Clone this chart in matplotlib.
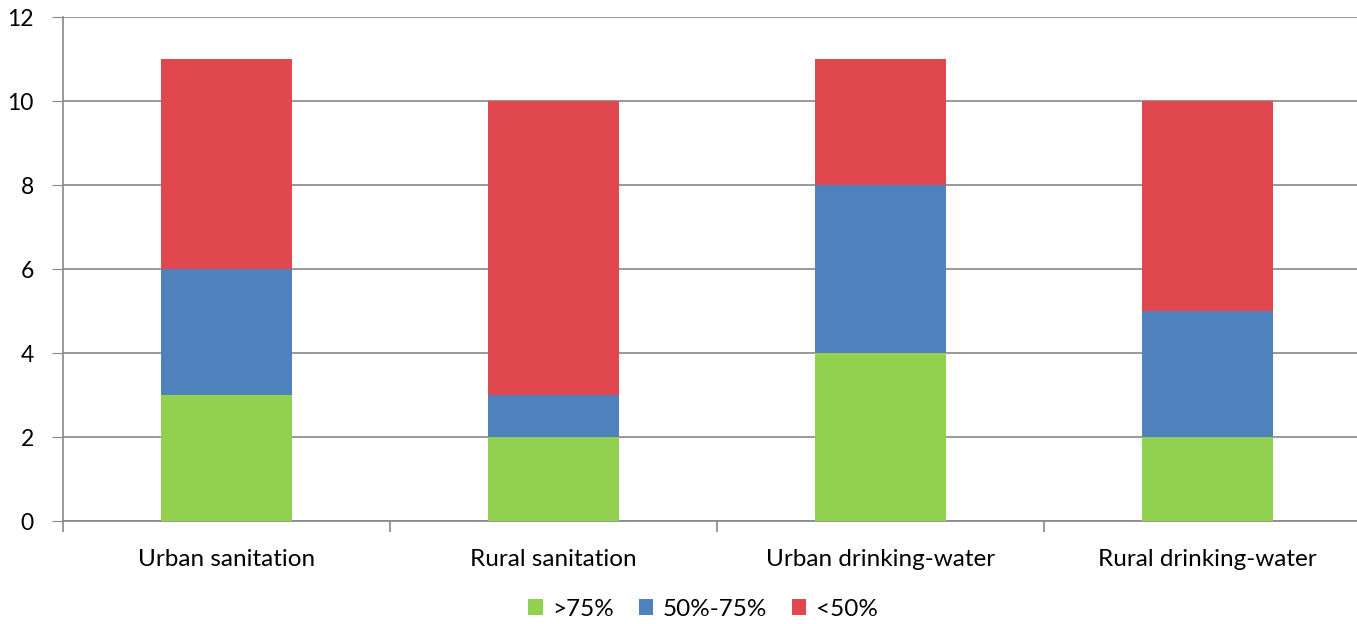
import numpy as np
import matplotlib.pyplot as plt

plt.rcParams['font.family'] = ['Lato', 'DejaVu Sans']

categories = ['Urban sanitation', 'Rural sanitation', 'Urban drinking-water', 'Rural drinking-water']
above_75 = [3, 2, 4, 2]
between_50_75 = [3, 1, 4, 3]
below_50 = [5, 7, 3, 5]
series_names = ['>75%', '50%-75%', '<50%']
colors = ['#92D050', '#4F81BD', '#E0474F']

fig = plt.figure(figsize=(13.57, 6.24), dpi=100)
ax = fig.add_axes([63 / 1357, 1 - 521 / 624, (1371 - 63) / 1357, (521 - 17) / 624])

x = np.arange(len(categories))
bottom = np.zeros(len(categories))
for vals, name, c in zip([above_75, between_50_75, below_50], series_names, colors):
    ax.bar(x, vals, width=0.4, bottom=bottom, color=c, label=name, zorder=3)
    bottom += np.array(vals)

ax.set_xlim(-0.5, len(categories) - 0.5)
ax.set_ylim(0, 12)
ax.set_yticks(range(0, 13, 2))
ax.tick_params(axis='y', labelsize=16.5, length=8, color='#888888', pad=13)
ax.yaxis.grid(True, color='#888888', linewidth=1.2, zorder=0)

ax.set_xticks(x)
ax.set_xticklabels(categories, fontsize=17.5)
ax.tick_params(axis='x', which='major', length=0, pad=20)
ax.set_xticks(np.arange(-0.5, len(categories)), minor=True)
ax.tick_params(axis='x', which='minor', length=8, color='#888888', width=1.2)

for s in ['top', 'right']:
    ax.spines[s].set_visible(False)
for s in ['left', 'bottom']:
    ax.spines[s].set_color('#888888')
    ax.spines[s].set_linewidth(1.2)

fig.legend(loc='center', bbox_to_anchor=(703 / 1357, 1 - 609 / 624), ncol=3, frameon=False,
           fontsize=17.5, handlelength=0.6, handleheight=0.6, handletextpad=0.4, columnspacing=1.0)

fig.savefig('out.png', dpi=100)
